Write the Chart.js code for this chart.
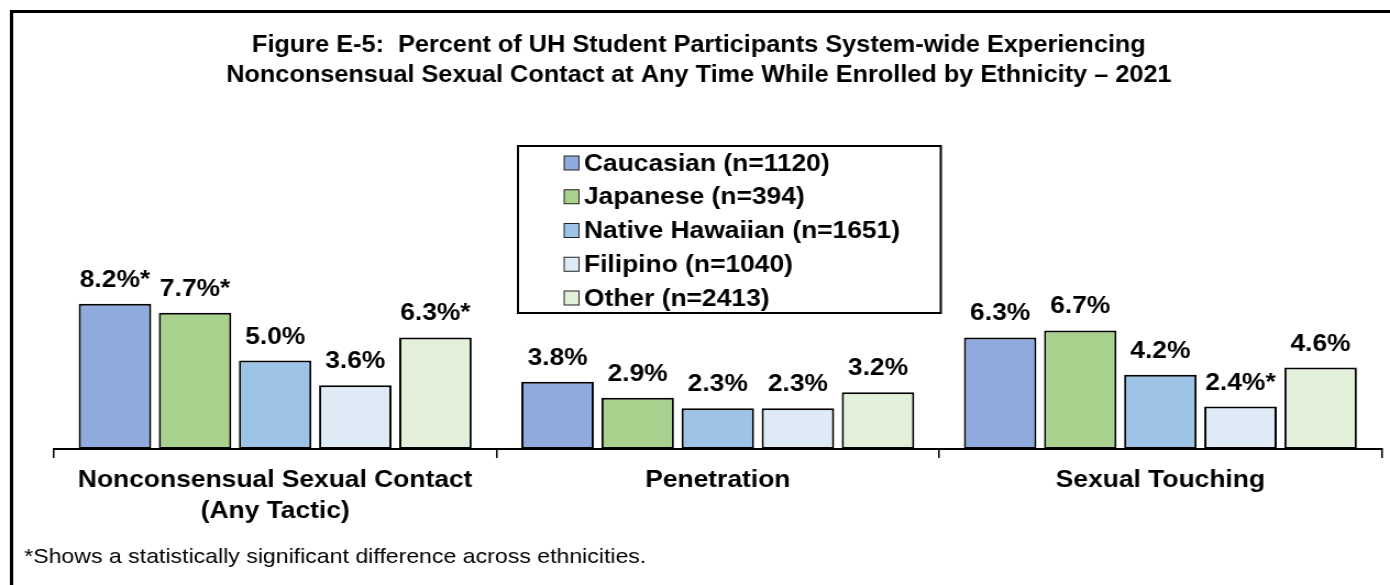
<!DOCTYPE html>
<html>
<head>
<meta charset="utf-8">
<script src="https://cdn.jsdelivr.net/npm/chart.js@4.4.1/dist/chart.umd.min.js"></script>
<style>
  html, body { margin: 0; padding: 0; background: #fff; overflow: hidden; }
  /* the reference is slightly stretched sideways, so the canvas is drawn narrower and scaled */
  #chart { display: block; transform: scaleX(1.0997); transform-origin: 0 0; }
</style>
</head>
<body>
<canvas id="chart" width="1264" height="585"></canvas>
<script>
const categories = [["Nonconsensual Sexual Contact", "(Any Tactic)"], "Penetration", "Sexual Touching"];
const seriesNames = ["Caucasian (n=1120)", "Japanese (n=394)", "Native Hawaiian (n=1651)", "Filipino (n=1040)", "Other (n=2413)"];

const caucasian = [8.2, 3.8, 6.3];
const japanese = [7.7, 2.9, 6.7];
const nativeHawaiian = [5.0, 2.3, 4.2];
const filipino = [3.6, 2.3, 2.4];
const other = [6.3, 3.2, 4.6];

// 1 = label carries the significance asterisk
const caucasianSig = [1, 0, 0];
const japaneseSig = [1, 0, 0];
const nativeHawaiianSig = [0, 0, 0];
const filipinoSig = [0, 0, 1];
const otherSig = [1, 0, 0];

const titleLines = [
  "Figure E-5:  Percent of UH Student Participants System-wide Experiencing",
  "Nonconsensual Sexual Contact at Any Time While Enrolled by Ethnicity \u2013 2021",
];
const footnote = "*Shows a statistically significant difference across ethnicities.";

const FONT = "Arial, 'Liberation Sans', sans-serif";
const colors = ["#8FAADC", "#A9D18E", "#9DC3E6", "#DEEBF7", "#E2F0D9"];
const values = [caucasian, japanese, nativeHawaiian, filipino, other];
const sigs = [caucasianSig, japaneseSig, nativeHawaiianSig, filipinoSig, otherSig];

const datasets = seriesNames.map((name, i) => ({
  label: name,
  data: values[i],
  sig: sigs[i],
  backgroundColor: colors[i],
  borderColor: "#000",
  borderWidth: 2,
  borderSkipped: false,
  categoryPercentage: 0.905,
  barPercentage: 0.905,
}));

const decorPlugin = {
  id: "decor",
  afterDatasetsDraw(chart) {
    const { ctx } = chart;
    ctx.save();
    ctx.fillStyle = "#000";
    ctx.font = `bold 24px ${FONT}`;
    ctx.textAlign = "center";
    ctx.textBaseline = "alphabetic";
    chart.data.datasets.forEach((ds, di) => {
      const meta = chart.getDatasetMeta(di);
      meta.data.forEach((bar, i) => {
        const txt = ds.data[i].toFixed(1) + "%" + (ds.sig[i] ? "*" : "");
        ctx.fillText(txt, bar.x, bar.y - 17);
      });
    });
    ctx.restore();
  },
  afterDraw(chart) {
    const { ctx } = chart;
    ctx.save();
    // frame (left and top only)
    ctx.fillStyle = "#000";
    ctx.fillRect(9, 10, 1300, 3);
    ctx.fillRect(9, 10, 3, 600);

    // title
    ctx.font = `bold 23px ${FONT}`;
    ctx.textAlign = "center";
    ctx.textBaseline = "alphabetic";
    ctx.fillText(titleLines[0], 635.5, 52);
    ctx.fillText(titleLines[1], 635.5, 82);

    // legend box
    ctx.lineWidth = 2;
    ctx.strokeStyle = "#000";
    ctx.strokeRect(471, 146, 384.5, 167);
    ctx.font = `bold 24px ${FONT}`;
    ctx.textAlign = "left";
    ctx.textBaseline = "middle";
    chart.data.datasets.forEach((ds, i) => {
      const cy = 163 + i * 33.75;
      ctx.fillStyle = ds.backgroundColor;
      ctx.fillRect(513, cy - 7, 13.5, 14);
      ctx.lineWidth = 1;
      ctx.strokeStyle = "#222";
      ctx.strokeRect(513, cy - 7, 13.5, 14);
      ctx.fillStyle = "#000";
      ctx.fillText(ds.label, 531, cy + 1);
    });

    // footnote
    ctx.font = `21px ${FONT}`;
    ctx.textBaseline = "middle";
    ctx.fillText(footnote, 22, 557);
    ctx.restore();
  },
};

new Chart(document.getElementById("chart"), {
  type: "bar",
  data: { labels: categories, datasets },
  options: {
    responsive: false,
    animation: false,
    devicePixelRatio: 1,
    layout: { padding: { top: 272, left: 49, right: 7.6, bottom: 0 } },
    plugins: {
      legend: { display: false },
      title: { display: false },
      tooltip: { enabled: false },
    },
    scales: {
      y: { display: false, min: 0, max: 10 },
      x: {
        grid: {
          display: true,
          drawOnChartArea: false,
          drawTicks: true,
          tickLength: 9,
          color: "#000",
          lineWidth: 1.5,
          offset: true,
        },
        border: { display: true, color: "#000", width: 2 },
        ticks: {
          color: "#000",
          autoSkip: false,
          maxRotation: 0,
          padding: 7,
          font: { family: FONT, size: 24, weight: "bold", lineHeight: 1.29 },
        },
        afterFit(scale) {
          scale.height = 136;
        },
      },
    },
  },
  plugins: [decorPlugin],
});
</script>
</body>
</html>
